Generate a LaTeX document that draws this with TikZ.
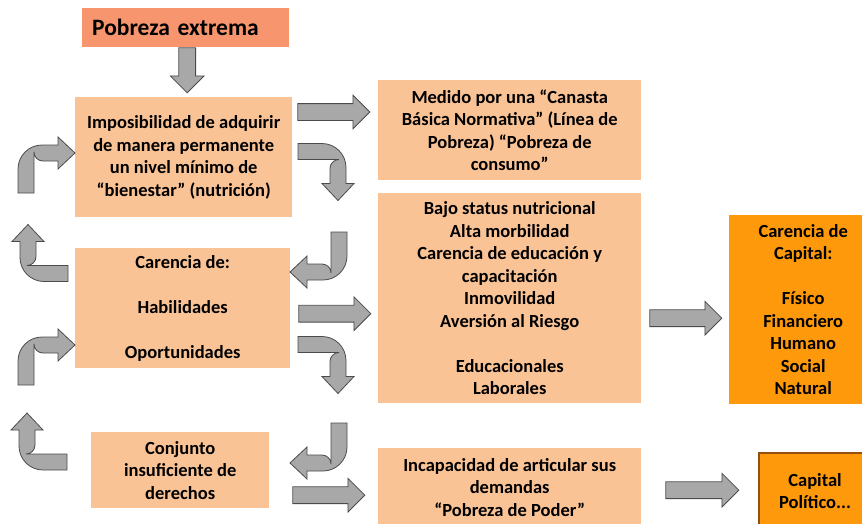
\documentclass[tikz,border=0pt]{standalone}
\usepackage{fontspec}
\setmainfont{Carlito}
\usetikzlibrary{shapes.arrows, positioning}
\definecolor{peach}{RGB}{250,195,150}
\definecolor{salmon}{RGB}{247,150,110}
\definecolor{capitalorange}{RGB}{253,153,10}
\definecolor{brownedge}{RGB}{150,78,12}
\definecolor{arrowgray}{RGB}{168,168,168}
\definecolor{arrowedge}{RGB}{75,75,75}

\begin{document}
\begin{tikzpicture}[x=1pt, y=1pt,
    box/.style={fill=peach, anchor=north west, align=center, inner sep=0pt, font=\fontsize{18.5}{22.5}\selectfont\bfseries},
    capbox/.style={box, fill=capitalorange},
    fatarrow/.style={single arrow, draw=arrowedge, fill=arrowgray, line width=0.8pt, inner xsep=0pt, inner ysep=8pt, single arrow head extend=8.5pt, minimum height=72pt, anchor=tail},
    turnarrow/.pic={\draw[draw=arrowedge, fill=arrowgray, line width=0.8pt] (-8,0) -- (-8,24) arc (180:90:24) -- (32,48) -- (32,56) -- (49,40) -- (32,24) -- (32,32) -- (17,32) arc (270:180:9) -- (8,0) -- cycle;}
  ]
    \useasboundingbox (0,0) rectangle (862,-523);

    \node[box, fill=salmon, align=left, text width=187pt, inner xsep=10pt, minimum height=39pt, font=\fontsize{23.5}{28}\selectfont\bfseries] (pobreza) at (82,-8) {Pobreza extrema};
    \node[box, minimum width=217pt, minimum height=120pt] (impos) at (75,-97) {Imposibilidad de adquirir\\de manera permanente\\un nivel mínimo de\\“bienestar” (nutrición)};
    \node[box, minimum width=263pt, minimum height=100pt] (medido) at (378,-80) {Medido por una “Canasta\\Básica Normativa” (Línea de\\Pobreza) “Pobreza de\\consumo”};
    \node[box, minimum width=263pt, minimum height=210pt] (bajo) at (378,-193) {Bajo status nutricional\\Alta morbilidad\\Carencia de educación y\\capacitación\\Inmovilidad\\Aversión al Riesgo\\[22.5pt]Educacionales\\Laborales};
    \node[box, minimum width=215pt, minimum height=120pt] (carencia) at (75,-248) {Carencia de:\\[22.5pt]Habilidades\\[22.5pt]Oportunidades};
    \node[capbox, minimum width=148pt, minimum height=189pt] (capital) at (729,-215) {Carencia de\\Capital:\\[22.5pt]Físico\\Financiero\\Humano\\Social\\Natural};
    \node[box, minimum width=178pt, minimum height=76pt] (conjunto) at (91,-432) {Conjunto\\insuficiente de\\derechos};
    \node[box, minimum width=263pt, minimum height=78pt] (incap) at (378,-448) {Incapacidad de articular sus\\demandas\\“Pobreza de Poder”};
    \node[capbox, draw=brownedge, line width=2pt, minimum width=112pt, minimum height=76pt] (politico) at (758,-452) {Capital\\Político...};

    \node[fatarrow, rotate=-90, minimum height=45pt] (down) at ([xshift=1.5pt]pobreza.south) {};
    \node[fatarrow] (toMedido) at ([shift={(5,-15)}]impos.north east) {};
    \node[fatarrow] (toBajo) at ([shift={(8,-5.5)}]carencia.east) {};
    \node[fatarrow] (toIncap) at ([shift={(23,-25)}]conjunto.east) {};
    \node[fatarrow] (toCapital) at ([shift={(8,-20)}]bajo.east) {};
    \node[fatarrow, minimum height=73pt] (toPolitico) at ([shift={(24,-3)}]incap.east) {};

    \pic at (26,-193) {turnarrow};
    \pic at (26,-385) {turnarrow};
    \pic[rotate=90] at (68,-273.5) {turnarrow};
    \pic[rotate=90] at (67,-462) {turnarrow};
    \pic[rotate=-90] at (298,-151.5) {turnarrow};
    \pic[rotate=-90] at (298,-344.5) {turnarrow};
    \pic[rotate=180] at (339,-232) {turnarrow};
    \pic[rotate=180] at (339,-423) {turnarrow};
\end{tikzpicture}
\end{document}
